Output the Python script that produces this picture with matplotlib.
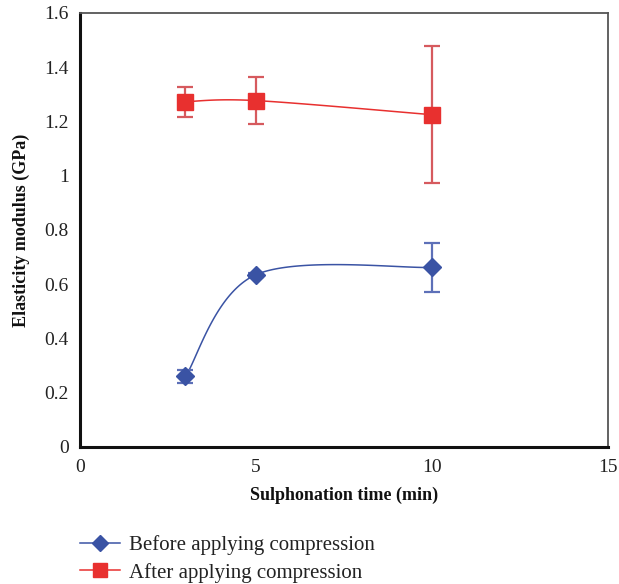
import numpy as np
import matplotlib
matplotlib.use("Agg")
import matplotlib.pyplot as plt
from matplotlib.lines import Line2D

plt.rcParams['font.family'] = ['Liberation Serif', 'DejaVu Serif']

x = [3, 5, 10]
before = [0.26, 0.635, 0.662]
before_err = [0.025, 0.008, 0.09]
after = [1.273, 1.277, 1.225]
after_err = [0.055, 0.088, 0.253]
xticks = [0, 5, 10, 15]
yticks = [0, 0.2, 0.4, 0.6, 0.8, 1.0, 1.2, 1.4, 1.6]
ytick_labels = ['0', '0.2', '0.4', '0.6', '0.8', '1', '1.2', '1.4', '1.6']

blue = '#3A53A4'
blue_err = '#5D70B8'
red = '#E8302F'
red_err = '#D65A5E'


def smooth(xs, ys, n=60):
    xs = np.asarray(xs, float)
    ys = np.asarray(ys, float)
    P = np.column_stack([xs, ys])
    pts = [P[0]]
    m = len(P)
    for i in range(m - 1):
        p0 = P[i - 1] if i > 0 else P[i]
        p1 = P[i]
        p2 = P[i + 1]
        p3 = P[i + 2] if i + 2 < m else P[i + 1]
        c1 = p1 + (p2 - p0) / 6
        c2 = p2 - (p3 - p1) / 6
        t = np.linspace(0, 1, n)[1:, None]
        seg = ((1 - t) ** 3) * p1 + 3 * ((1 - t) ** 2) * t * c1 + 3 * (1 - t) * t ** 2 * c2 + t ** 3 * p2
        pts.extend(seg)
    pts = np.array(pts)
    return pts[:, 0], pts[:, 1]


fig = plt.figure(figsize=(6.19, 5.84), dpi=100)
ax = fig.add_axes([0.129, 0.2346, 0.853, 0.7432])

sx, sy = smooth(x, before)
ax.plot(sx, sy, color=blue, lw=1.1, zorder=2)
ax.errorbar(x, before, yerr=before_err, fmt='none', ecolor=blue_err, elinewidth=1.6, capsize=6, capthick=1.6, zorder=3)
ax.plot(x, before, linestyle='none', marker='D', markersize=9, color=blue, zorder=4)

sx, sy = smooth(x, after)
ax.plot(sx, sy, color=red, lw=1.1, zorder=2)
ax.errorbar(x, after, yerr=after_err, fmt='none', ecolor=red_err, elinewidth=1.6, capsize=6, capthick=1.6, zorder=3)
ax.plot(x, after, linestyle='none', marker='s', markersize=11, color=red, zorder=4)

ax.set_xlim(0, 15)
ax.set_ylim(0, 1.6)
ax.set_xticks(xticks)
ax.set_yticks(yticks)
ax.set_yticklabels(ytick_labels)
ax.tick_params(length=0, labelsize=14, colors='#222222', pad=8)
ax.tick_params(axis='x', pad=9)
for s in ['left', 'bottom']:
    ax.spines[s].set_linewidth(2.2)
    ax.spines[s].set_color('#111111')
for s in ['top', 'right']:
    ax.spines[s].set_linewidth(1.3)
    ax.spines[s].set_color('#555555')

ax.set_xlabel('Sulphonation time (min)', fontsize=13, fontweight='bold', labelpad=7, color='#111111')
ax.set_ylabel('Elasticity modulus (GPa)', fontsize=13, fontweight='bold', labelpad=10, color='#111111')

handles = [
    Line2D([], [], color=blue, lw=1.1, marker='D', markersize=8),
    Line2D([], [], color=red, lw=1.1, marker='s', markersize=10),
]
fig.legend(handles, ['Before applying compression', 'After applying compression'],
           loc='upper left', bbox_to_anchor=(0.129, 0.083), frameon=False, fontsize=15,
           handlelength=1.95, handletextpad=0.4, labelspacing=0.35, borderaxespad=0,
           borderpad=0, labelcolor='#222222')

fig.savefig('out.png', dpi=100)
